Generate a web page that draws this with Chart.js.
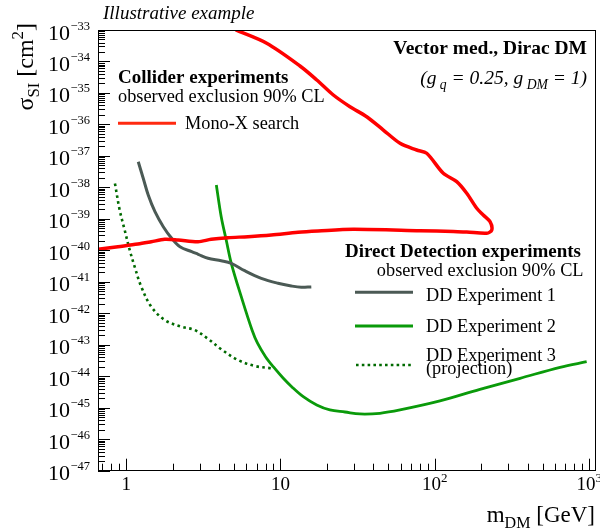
<!DOCTYPE html>
<html>
<head>
<meta charset="utf-8">
<script src="https://cdn.jsdelivr.net/npm/chart.js@4.4.1/dist/chart.umd.min.js"></script>
<style>
html,body{margin:0;padding:0;background:#fff;}
#wrap{width:600px;height:531px;position:relative;}
</style>
</head>
<body>
<div id="wrap"><canvas id="c" width="600" height="531"></canvas></div>
<script>
// ---------------- data ----------------
const X_RANGE = [0.657, 1108];      // m_DM [GeV]
const Y_RANGE = [1e-47, 1e-33];     // sigma_SI [cm^2]
const X_TICK_VALUES = [1, 10, 100, 1000];
const X_TICK_BASES = ['1', '10', '10', '10'];
const X_TICK_EXPONENTS = ['', '', '2', '3'];
const Y_TICK_EXPONENTS = [-47, -46, -45, -44, -43, -42, -41, -40, -39, -38, -37, -36, -35, -34, -33];

const monoX_mass = [0.657, 0.885, 1.19, 1.455, 1.777, 2.17, 2.92, 3.56, 4.57, 6.16, 8.72, 13.0, 17.5, 29.6, 80.2, 131.8, 161, 217, 234, 228, 206, 187, 161, 138.7, 113.5, 88.6, 76.3, 59.5, 46.4, 36.2, 28.2, 22.0, 17.2, 13.38, 8.14, 5.13];
const monoX_sigma = [1.08e-40, 1.31e-40, 1.59e-40, 1.88e-40, 2.24e-40, 2.13e-40, 1.88e-40, 2.24e-40, 2.52e-40, 2.72e-40, 3.08e-40, 3.75e-40, 4.12e-40, 4.67e-40, 4.21e-40, 3.95e-40, 3.85e-40, 3.48e-40, 4.43e-40, 8.13e-40, 1.33e-39, 2.17e-39, 6.5e-39, 1.52e-38, 2.8e-38, 1.21e-37, 1.54e-37, 2.52e-37, 6.65e-37, 1.76e-36, 3.66e-36, 8.61e-36, 2.58e-35, 7.18e-35, 3.78e-34, 1e-33];

const dd1_mass = [1.198, 1.29, 1.39, 1.537, 1.74, 1.972, 2.232, 2.66, 2.93, 3.39, 4.13, 4.80, 5.86, 7.51, 9.63, 11.75, 13.64, 15.84];
const dd1_sigma = [6.55e-38, 1.95e-38, 5.74e-39, 1.69e-39, 5.65e-40, 2.42e-40, 1.31e-40, 9.06e-41, 7.5e-41, 5.6e-41, 4.69e-41, 3.88e-41, 2.26e-41, 1.29e-41, 9.0e-42, 7.38e-42, 6.7e-42, 6.9e-42];

const dd2_mass = [3.84, 4.13, 4.45, 4.80, 5.57, 6.54, 7.10, 8.0, 8.98, 10.43, 11.82, 14.05, 17.17, 20.9, 26.2, 32.7, 44.1, 59.5, 108, 196, 357, 648, 964];
const dd2_sigma = [1.19e-38, 1.17e-39, 2.13e-40, 3.88e-41, 3.37e-42, 2.95e-43, 1.12e-43, 4.19e-44, 2.01e-44, 8.63e-45, 4.67e-45, 2.24e-45, 1.22e-45, 8.5e-46, 7.33e-46, 6.34e-46, 6.67e-46, 8.5e-46, 1.64e-45, 3.85e-45, 8.6e-45, 1.93e-44, 2.9e-44];

const dd3_mass = [0.846, 0.908, 0.978, 1.054, 1.135, 1.253, 1.455, 1.777, 2.28, 2.78, 3.39, 4.13, 5.30, 6.80, 8.74];
const dd3_sigma = [1.33e-38, 1.91e-39, 4.43e-40, 1.03e-40, 3.03e-41, 7.0e-42, 1.62e-42, 6.13e-43, 3.76e-43, 2.95e-43, 1.55e-43, 7.2e-44, 3.29e-44, 2.12e-44, 1.79e-44];

const SERIES_NAMES = ['Mono-X search', 'DD Experiment 1', 'DD Experiment 2', 'DD Experiment 3'];
const TITLE_TOP = 'Illustrative example';
const MODEL_LINE = 'Vector med., Dirac DM';
const COLLIDER_HEAD = 'Collider experiments';
const DD_HEAD = 'Direct Detection experiments';
const CL_TEXT = 'observed exclusion 90% CL';
const PROJ_TEXT = '(projection)';

// ---------------- styles ----------------
const FONT = '"Liberation Serif", "Times New Roman", serif';
const C_RED = '#ff0000', C_GRAY = '#4b5a55', C_GREEN = '#0a9a0a', C_DKGREEN = '#006a00';

function pts(xs, ys){ return xs.map((x,i)=>({x:x, y:ys[i]})); }

function fontStr(size, style, weight){ return `${style||''} ${weight||''} ${size}px ${FONT}`; }

// segs: [text, kind]  kind 0 normal, 1 subscript, 2 superscript
function drawRich(ctx, segs, x, y, size, o){
  o = o || {};
  const sz = k => k ? size*0.7 : size;
  let w = 0;
  segs.forEach(s=>{ ctx.font = fontStr(sz(s[1]), o.style, o.weight); w += ctx.measureText(s[0]).width; });
  let cx = o.align==='right' ? x - w : (o.align==='center' ? x - w/2 : x);
  ctx.fillStyle = o.color || '#000';
  ctx.textAlign = 'left';
  ctx.textBaseline = 'alphabetic';
  segs.forEach(s=>{
    ctx.font = fontStr(sz(s[1]), o.style, o.weight);
    const dy = s[1]===1 ? size*0.27 : (s[1]===2 ? -size*0.4 : 0);
    ctx.fillText(s[0], cx, y + dy);
    cx += ctx.measureText(s[0]).width;
  });
  return w;
}

function text(ctx, t, x, y, size, o){ return drawRich(ctx, [[t,0]], x, y, size, o); }

function legendLine(ctx, x0, x1, y, color, width, dash){
  ctx.save();
  ctx.strokeStyle = color; ctx.lineWidth = width; ctx.setLineDash(dash || []);
  ctx.beginPath(); ctx.moveTo(x0, y); ctx.lineTo(x1, y); ctx.stroke();
  ctx.restore();
}

const decor = {
  id: 'decor',
  afterDatasetsDraw(chart){
    const ctx = chart.ctx, a = chart.chartArea, xs = chart.scales.x, ys = chart.scales.y;
    ctx.save();
    ctx.strokeStyle = '#000'; ctx.lineWidth = 1;
    ctx.strokeRect(Math.round(a.left)+0.5, Math.round(a.top)+0.5, Math.round(a.right-a.left)-1, Math.round(a.bottom-a.top)-1);
    ctx.beginPath();
    // y ticks (inward, left)
    const yMin = Math.round(Math.log10(Y_RANGE[0])), yMax = Math.round(Math.log10(Y_RANGE[1]));
    for (let e = yMin; e <= yMax; e++){
      for (let m = 1; m <= 9; m++){
        const v = m * Math.pow(10, e);
        if (v < Y_RANGE[0]*0.999 || v > Y_RANGE[1]*1.001) continue;
        const p = Math.round(ys.getPixelForValue(v)) + 0.5;
        const len = m === 1 ? 12 : 7;
        ctx.moveTo(a.left, p); ctx.lineTo(a.left + len, p);
      }
    }
    // x ticks (inward, bottom)
    for (let e = -1; e <= 3; e++){
      for (let m = 1; m <= 9; m++){
        const v = m * Math.pow(10, e);
        if (v < X_RANGE[0] || v > X_RANGE[1]) continue;
        const p = Math.round(xs.getPixelForValue(v)) + 0.5;
        const len = m === 1 ? 12 : 7;
        ctx.moveTo(p, a.bottom); ctx.lineTo(p, a.bottom - len);
      }
    }
    ctx.stroke();
    ctx.restore();
  },
  afterDraw(chart){
    const ctx = chart.ctx, a = chart.chartArea, xs = chart.scales.x, ys = chart.scales.y;
    ctx.save();
    // y tick labels
    Y_TICK_EXPONENTS.forEach(e=>{
      const p = ys.getPixelForValue(Math.pow(10, e));
      const expStr = (e < 0 ? '\u2212' : '') + Math.abs(e);
      ctx.font = fontStr(12.5); const ew = ctx.measureText(expStr).width;
      ctx.font = fontStr(22); const bw = ctx.measureText('10').width;
      const xe = a.left - 8 - ew;
      text(ctx, '10', xe - bw - 0.5, p + 9.5, 22);
      text(ctx, expStr, xe, p - 0.5, 12.5);
    });
    // x tick labels
    X_TICK_VALUES.forEach((v,i)=>{
      const p = xs.getPixelForValue(v);
      const b = X_TICK_BASES[i], ex = X_TICK_EXPONENTS[i];
      ctx.font = fontStr(19); const bw = ctx.measureText(b).width;
      ctx.font = fontStr(13); const ew = ex ? ctx.measureText(ex).width : 0;
      const x0 = p - (bw + ew)/2;
      text(ctx, b, x0, 490, 19);
      if (ex) text(ctx, ex, x0 + bw, 482, 13);
    });
    // axis titles
    ctx.save();
    ctx.translate(33, 23); ctx.rotate(-Math.PI/2);
    drawRich(ctx, [['\u03c3',0],['SI',1],[' [cm',0],['2',2],[']',0]], 0, 0, 24, {align:'right'});
    ctx.restore();
    drawRich(ctx, [['m',0],['DM',1],[' [GeV]',0]], 595, 521.5, 23, {align:'right'});

    // top / model text
    text(ctx, TITLE_TOP, 103, 18.5, 19, {style:'italic'});
    text(ctx, MODEL_LINE, 587, 54, 19.5, {weight:'bold', align:'right'});
    drawRich(ctx, [['(g',0],[' q',1],[' = 0.25, g',0],[' DM',1],[' = 1)',0]], 587, 84, 19.5, {style:'italic', align:'right'});

    // collider legend
    text(ctx, COLLIDER_HEAD, 118, 82.5, 19, {weight:'bold'});
    text(ctx, CL_TEXT, 118, 101.5, 18.3);
    legendLine(ctx, 118, 176, 123.3, '#ff2a10', 3);
    text(ctx, SERIES_NAMES[0], 185, 128.5, 18.3);

    // direct detection legend
    text(ctx, DD_HEAD, 581, 256.7, 19, {weight:'bold', align:'right'});
    text(ctx, CL_TEXT, 583.5, 276, 18.3, {align:'right'});
    legendLine(ctx, 355, 413, 292.3, C_GRAY, 3);
    text(ctx, SERIES_NAMES[1], 426, 300.7, 18.3);
    legendLine(ctx, 355, 413, 326, C_GREEN, 3);
    text(ctx, SERIES_NAMES[2], 426, 331.7, 18.3);
    legendLine(ctx, 356, 413, 365, C_DKGREEN, 2.6, [2.6, 3.2]);
    text(ctx, SERIES_NAMES[3], 426, 360.7, 18.3);
    text(ctx, PROJ_TEXT, 426, 374, 18.3);
    ctx.restore();
  }
};

new Chart(document.getElementById('c'), {
  type: 'line',
  data: {
    datasets: [
      {label: SERIES_NAMES[0], data: pts(monoX_mass, monoX_sigma), borderColor: C_RED, borderWidth: 3.5, pointRadius: 0, tension: 0.3, fill: false},
      {label: SERIES_NAMES[1], data: pts(dd1_mass, dd1_sigma), borderColor: C_GRAY, borderWidth: 3, pointRadius: 0, tension: 0.35, fill: false},
      {label: SERIES_NAMES[2], data: pts(dd2_mass, dd2_sigma), borderColor: C_GREEN, borderWidth: 2.8, pointRadius: 0, tension: 0.35, fill: false},
      {label: SERIES_NAMES[3], data: pts(dd3_mass, dd3_sigma), borderColor: C_DKGREEN, borderWidth: 2.6, borderDash: [2.6, 3.4], pointRadius: 0, tension: 0.35, fill: false}
    ]
  },
  options: {
    responsive: false,
    animation: false,
    devicePixelRatio: 1,
    layout: {padding: {top: 30, right: 4, left: 0, bottom: 0}},
    plugins: {legend: {display: false}, tooltip: {enabled: false}},
    scales: {
      x: {type: 'logarithmic', min: X_RANGE[0], max: X_RANGE[1],
          ticks: {display: false}, grid: {display: false}, border: {display: false},
          afterFit(s){ s.height = 60.3; }},
      y: {type: 'logarithmic', min: Y_RANGE[0], max: Y_RANGE[1],
          ticks: {display: false}, grid: {display: false}, border: {display: false},
          afterFit(s){ s.width = 98; }}
    }
  },
  plugins: [decor]
});
</script>
</body>
</html>
